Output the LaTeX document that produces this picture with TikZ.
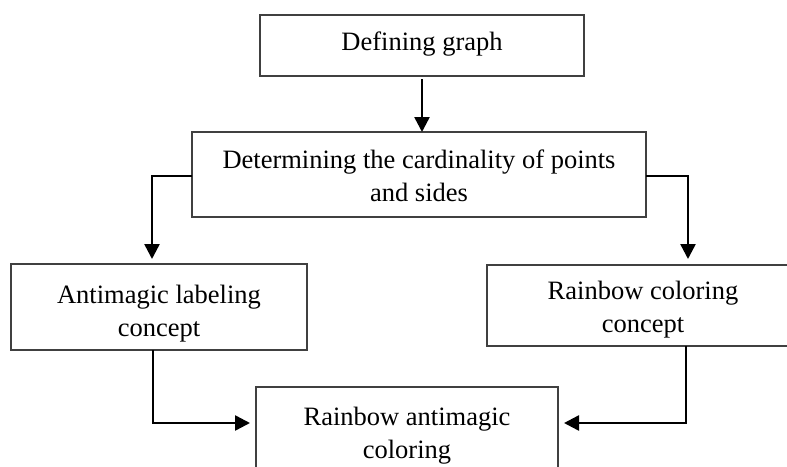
\documentclass[tikz,border=0pt]{standalone}
\usepackage{fontspec}
\setmainfont{Liberation Serif}
\usetikzlibrary{arrows.meta,calc}
\begin{document}
\begin{tikzpicture}[x=1pt,y=-1pt,
  box/.style={draw=black!75, line width=1.3pt, inner sep=0pt, outer sep=0pt},
  txt/.style={font=\fontsize{26.5pt}{33pt}\selectfont, align=center, inner sep=0pt},
  arr/.style={line width=2.5pt, -{Triangle[width=15pt,length=15pt]}},
  ]
\clip (0,0) rectangle (787,466);
\fill[white] (0,0) rectangle (787,466);
% boxes
\node[box, minimum width=324pt, minimum height=61pt] (dg) at (422,45.5) {};
\node[box, minimum width=454pt, minimum height=85pt] (card) at (419,174.5) {};
\node[box, minimum width=296pt, minimum height=86pt] (am) at (159,307) {};
\node[box, minimum width=313pt, minimum height=81pt] (rc) at (643.5,305.5) {};
\node[box, minimum width=302pt, minimum height=113pt] (ra) at (407,443.5) {};
% texts
\node[txt] (tdg) at (422,43.9) {Defining graph};
\node[txt] (tcard) at (419,175.5) {Determining the cardinality of points\\and sides};
\node[txt] (tam) at (159,313.3) {Antimagic labeling\\concept};
\node[txt] (trc) at (643,309.4) {Rainbow coloring\\concept};
\node[txt] (tra) at (407,435.3) {Rainbow antimagic\\coloring};
% connectors
\draw[arr] ([yshift=-3pt]dg.south) -- (dg.south |- card.north);
\draw[arr] ([yshift=-1.5pt]card.west) -| ([xshift=-7pt,yshift=5pt]am.north);
\draw[arr] ([yshift=-1.5pt]card.east) -| ([xshift=44.5pt,yshift=6pt]rc.north);
\draw[arr] ([xshift=-6pt]am.south) |- ([xshift=-6pt,yshift=20.5pt]ra.west);
\draw[arr] ([xshift=42.5pt]rc.south) |- ([xshift=6pt,yshift=20.5pt]ra.east);
\end{tikzpicture}
\end{document}
